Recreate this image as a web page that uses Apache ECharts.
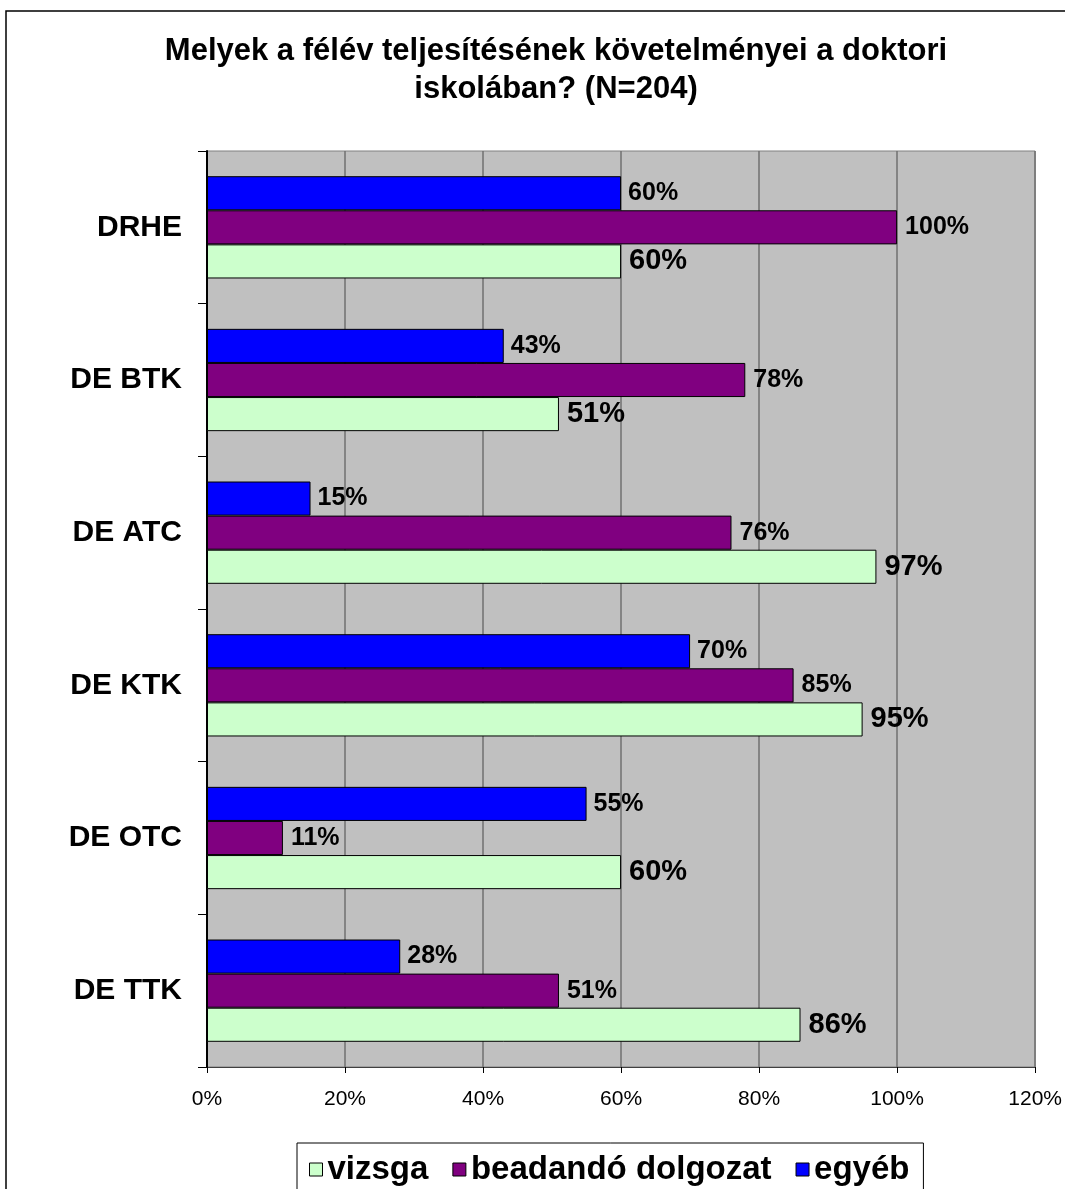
<!DOCTYPE html>
<html>
<head>
<meta charset="utf-8">
<script src="https://cdn.jsdelivr.net/npm/echarts@6/dist/echarts.min.js"></script>
<style>
  html, body { margin: 0; padding: 0; background: #fff; }
  #chart { width: 1065px; height: 1189px; }
</style>
</head>
<body>
<div id="chart"></div>
<script>
// kategóriák alulról felfelé (a tengely alulról rajzol)
var categories = ['DE TTK', 'DE OTC', 'DE KTK', 'DE ATC', 'DE BTK', 'DRHE'];
var vizsga = [86, 60, 95, 97, 51, 60];
var beadando = [51, 11, 85, 76, 78, 100];
var egyeb = [28, 55, 70, 15, 43, 60];
var seriesNames = ['vizsga', 'beadandó dolgozat', 'egyéb'];
var xTicks = [0, 20, 40, 60, 80, 100, 120];

var FONT = '"Liberation Sans", Arial, sans-serif';

function makeSeries(name, data, color, labelSize, dist) {
    return {
        name: name,
        type: 'bar',
        data: data,
        barGap: '0%',
        barCategoryGap: '33%',
        itemStyle: { color: color, borderColor: '#000', borderWidth: 1 },
        label: {
            show: true,
            position: 'right',
            distance: dist,
            formatter: '{c}%',
            color: '#000',
            fontFamily: FONT,
            fontWeight: 'bold',
            fontSize: labelSize
        }
    };
}

var myChart = echarts.init(document.getElementById('chart'));
var option = {
    backgroundColor: '#fff',
    animation: false,
    title: {
        text: 'Melyek a félév teljesítésének követelményei a doktori\niskolában? (N=204)',
        left: 551,
        top: 27,
        textAlign: 'center',
        textStyle: {
            fontFamily: FONT,
            fontWeight: 'bold',
            fontSize: 31,
            lineHeight: 38,
            color: '#000'
        }
    },
    graphic: [{
        type: 'rect',
        shape: { x: 6, y: 11, width: 1100, height: 1200 },
        style: { fill: 'none', stroke: '#000', lineWidth: 1.5 },
        silent: true
    }],
    legend: {
        data: seriesNames,
        left: 297,
        top: 1143,
        padding: [10, 14, 16, 12],
        borderColor: '#000',
        borderWidth: 1,
        itemWidth: 13,
        itemHeight: 13,
        itemGap: 24,
        itemTextGap: 8,
        icon: 'rect',
        itemStyle: { borderColor: '#000', borderWidth: 1 },
        textStyle: {
            fontFamily: FONT,
            fontWeight: 'bold',
            fontSize: 33,
            color: '#000'
        }
    },
    grid: {
        left: 207,
        right: 23,
        top: 151,
        bottom: 122,
        show: true,
        backgroundColor: '#c0c0c0',
        borderColor: '#808080',
        borderWidth: 1
    },
    xAxis: {
        type: 'value',
        min: xTicks[0],
        max: xTicks[xTicks.length - 1],
        interval: 20,
        axisLine: { show: true, lineStyle: { color: '#404040', width: 1 } },
        axisTick: { show: true, length: 6, lineStyle: { color: '#000' } },
        splitLine: { show: true, lineStyle: { color: '#707070', width: 1.5 } },
        axisLabel: {
            formatter: '{value}%',
            margin: 22,
            color: '#000',
            fontFamily: FONT,
            fontSize: 21
        }
    },
    yAxis: {
        type: 'category',
        data: categories,
        axisLine: { show: true, lineStyle: { color: '#000', width: 2 } },
        axisTick: { show: true, length: 9, lineStyle: { color: '#000' } },
        splitLine: { show: false },
        axisLabel: {
            margin: 25,
            color: '#000',
            fontFamily: FONT,
            fontWeight: 'bold',
            fontSize: 30
        }
    },
    // a felső sáv az első sorozat, ezért fordított sorrend
    series: [
        makeSeries(seriesNames[2], egyeb, '#0000ff', 25, 7),
        makeSeries(seriesNames[1], beadando, '#800080', 25, 8),
        makeSeries(seriesNames[0], vizsga, '#ccffcc', 29, 8)
    ]
};
myChart.setOption(option);
</script>
</body>
</html>
